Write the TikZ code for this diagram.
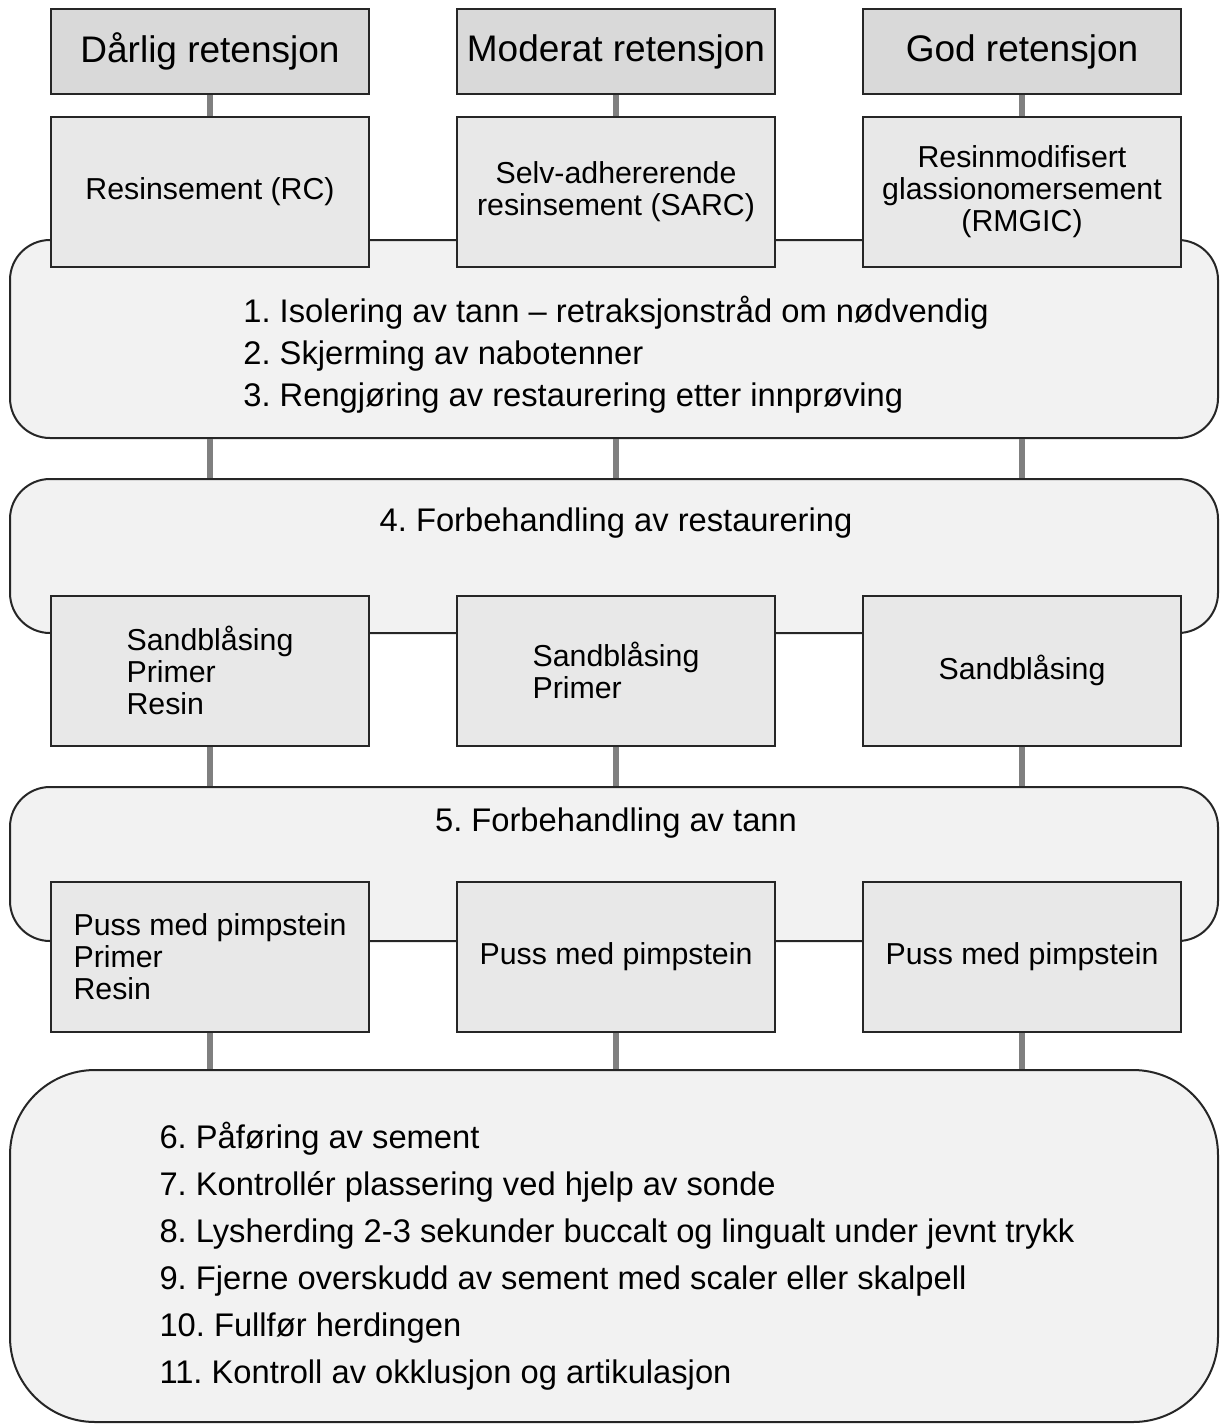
\documentclass[tikz,border=0pt]{standalone}
\usepackage{fontspec}
\setmainfont{Liberation Sans}
\usetikzlibrary{positioning}
\frenchspacing

\tikzset{
  header/.style={draw=black!85, line width=2pt, fill=black!15, minimum width=318pt, minimum height=85pt, inner sep=0pt, font=\fontsize{37}{44}\selectfont},
  stepbox/.style={draw=black!85, line width=2pt, fill=black!9, minimum width=318pt, minimum height=150pt, inner sep=0pt, font=\fontsize{30.3}{32}\selectfont},
  panel/.style={draw=black!85, line width=2pt, fill=black!5, minimum width=1208pt, rounded corners=40pt, inner sep=0pt},
  paneltext/.style={align=left, inner sep=0pt, font=\fontsize{32.7}{42}\selectfont},
  link/.style={draw=black!50, line width=5.5pt},
}

\begin{document}
\begin{tikzpicture}[x=1pt, y=-1pt]
  \useasboundingbox (0,0) rectangle (1220,1425);

  % panels behind the boxes
  \node[panel, minimum height=198pt] (p1) at (614,339) {};
  \node[panel, minimum height=154pt] (p2) at (614,556) {};
  \node[panel, minimum height=154pt] (p3) at (614,864) {};
  \node[panel, minimum height=352pt, rounded corners=85pt] (p4) at (614,1246) {};

  % headers
  \node[header] (h1) at (210,51.5) {Dårlig retensjon};
  \node[header] (h2) at (616,51.5) {Moderat retensjon};
  \node[header] (h3) at (1022,51.5) {God retensjon};

  % cements
  \node[stepbox, align=center] (c1) at (210,192) {Resinsement (RC)};
  \node[stepbox, align=center] (c2) at (616,192) {Selv-adhererende\\resinsement (SARC)};
  \node[stepbox, align=center] (c3) at (1022,192) {Resinmodifisert\\glassionomersement\\(RMGIC)};

  % restoration pretreatment
  \node[stepbox, align=left] (r1) at (210,670.5) {Sandblåsing\\Primer\\Resin};
  \node[stepbox, align=left] (r2) at (616,670.5) {Sandblåsing\\Primer};
  \node[stepbox, align=left] (r3) at (1022,670.5) {Sandblåsing};

  % tooth pretreatment
  \node[stepbox, align=left] (t1) at (210,957) {Puss med pimpstein\\Primer\\Resin};
  \node[stepbox, align=left] (t2) at (616,957) {Puss med pimpstein};
  \node[stepbox, align=left] (t3) at (1022,957) {Puss med pimpstein};

  % panel texts
  \node[paneltext] (s1) at (616,355) {1. Isolering av tann – retraksjonstråd om nødvendig\\2. Skjerming av nabotenner\\3. Rengjøring av restaurering etter innprøving};
  \node[paneltext] (s4) at (616,523) {4. Forbehandling av restaurering};
  \node[paneltext] (s5) at (616,823) {5. Forbehandling av tann};
  \node[paneltext, font=\fontsize{32.7}{47}\selectfont] (s6) at (617,1256) {6. Påføring av sement\\7. Kontrollér plassering ved hjelp av sonde\\8. Lysherding 2-3 sekunder buccalt og lingualt under jevnt trykk\\9. Fjerne overskudd av sement med scaler eller skalpell\\10. Fullfør herdingen\\11. Kontroll av okklusjon og artikulasjon};

  % links
  \foreach \i in {1,2,3}{
    \draw[link] (h\i.south) -- (c\i.north);
    \draw[link] (c\i.south |- p1.south) -- (c\i.south |- p2.north);
    \draw[link] (r\i.south) -- (r\i.south |- p3.north);
    \draw[link] (t\i.south) -- (t\i.south |- p4.north);
  }
\end{tikzpicture}
\end{document}
